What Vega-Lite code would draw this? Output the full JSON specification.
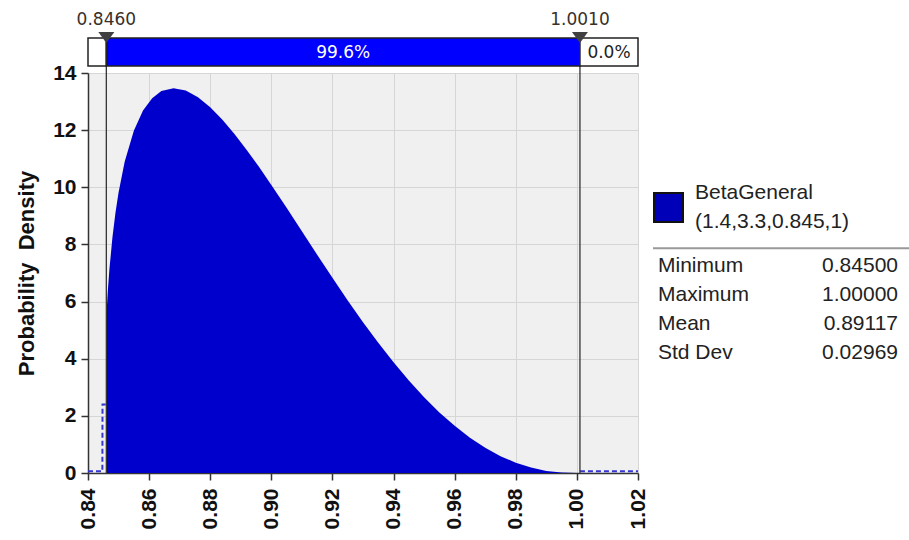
{
  "$schema": "https://vega.github.io/schema/vega-lite/v6.json",
  "background": "white",
  "padding": {"left": 15, "top": 10, "right": 0, "bottom": 0},
  "bounds": "flush",
  "spacing": 12,
  "config": {"view": {"stroke": null}, "font": "Liberation Sans"},
  "datasets": {
    "density": [
      {"x": 0.846, "density": 5.48}, {"x": 0.8465, "density": 6.40}, {"x": 0.847, "density": 7.12},
      {"x": 0.848, "density": 8.25}, {"x": 0.849, "density": 9.12}, {"x": 0.850, "density": 9.82},
      {"x": 0.852, "density": 10.89}, {"x": 0.855, "density": 11.98}, {"x": 0.858, "density": 12.69},
      {"x": 0.861, "density": 13.12}, {"x": 0.864, "density": 13.37}, {"x": 0.868, "density": 13.47},
      {"x": 0.872, "density": 13.39}, {"x": 0.876, "density": 13.15}, {"x": 0.880, "density": 12.80},
      {"x": 0.884, "density": 12.36}, {"x": 0.888, "density": 11.86}, {"x": 0.892, "density": 11.30},
      {"x": 0.896, "density": 10.71}, {"x": 0.900, "density": 10.08}, {"x": 0.905, "density": 9.28},
      {"x": 0.910, "density": 8.46}, {"x": 0.915, "density": 7.64}, {"x": 0.920, "density": 6.83},
      {"x": 0.925, "density": 6.04}, {"x": 0.930, "density": 5.28}, {"x": 0.935, "density": 4.56},
      {"x": 0.940, "density": 3.88}, {"x": 0.945, "density": 3.24}, {"x": 0.950, "density": 2.65},
      {"x": 0.955, "density": 2.12}, {"x": 0.960, "density": 1.65}, {"x": 0.965, "density": 1.23},
      {"x": 0.970, "density": 0.88}, {"x": 0.975, "density": 0.59}, {"x": 0.980, "density": 0.36},
      {"x": 0.985, "density": 0.19}, {"x": 0.990, "density": 0.07}, {"x": 0.995, "density": 0.015},
      {"x": 1.000, "density": 0.0}
    ],
    "tails": [
      {"part": "left", "x": 0.8400, "density": 0.06},
      {"part": "left", "x": 0.8447, "density": 0.06},
      {"part": "left", "x": 0.84475, "density": 2.4},
      {"part": "left", "x": 0.8458, "density": 2.4},
      {"part": "right", "x": 1.001, "density": 0.06},
      {"part": "right", "x": 1.020, "density": 0.06}
    ],
    "delims": [
      {"x": 0.846, "label": "0.8460"},
      {"x": 1.001, "label": "1.0010"}
    ],
    "segments": [
      {"seg": "left", "lo": 0.840, "hi": 0.846, "pct": "0.4%"},
      {"seg": "mid", "lo": 0.846, "hi": 1.001, "pct": "99.6%"},
      {"seg": "right", "lo": 1.001, "hi": 1.020, "pct": "0.0%"}
    ],
    "dist": [
      {"name": "BetaGeneral", "params": "(1.4,3.3,0.845,1)"}
    ],
    "stats": [
      {"stat": "Minimum", "val": "0.84500"},
      {"stat": "Maximum", "val": "1.00000"},
      {"stat": "Mean", "val": "0.89117"},
      {"stat": "Std Dev", "val": "0.02969"}
    ]
  },
  "hconcat": [
    {
      "width": 550,
      "height": 400,
      "view": {"fill": "#f0f0f0", "stroke": null},
      "layer": [
        {
          "data": {"name": "density"},
          "mark": {"type": "area", "color": "#0000CC", "interpolate": "linear"},
          "encoding": {
            "x": {
              "field": "x", "type": "quantitative",
              "scale": {"domain": [0.84, 1.02], "nice": false, "zero": false},
              "axis": {
                "values": [0.84, 0.86, 0.88, 0.90, 0.92, 0.94, 0.96, 0.98, 1.00, 1.02],
                "format": ".2f", "labelAngle": -90, "labelFont": "Liberation Sans",
                "labelFontSize": 21, "labelFontWeight": "bold", "labelColor": "#111",
                "tickColor": "#333", "tickSize": 7, "tickWidth": 1.5,
                "domainColor": "#333", "domainWidth": 1.5,
                "gridColor": "#d6d6d6", "gridWidth": 1,
                "labelPadding": 8, "title": null, "labelFlush": false, "labelOverlap": false
              }
            },
            "y": {
              "field": "density", "type": "quantitative",
              "scale": {"domain": [0, 14], "nice": false},
              "axis": {
                "values": [0, 2, 4, 6, 8, 10, 12, 14],
                "labelFont": "Liberation Sans", "labelFontSize": 21, "labelFontWeight": "bold",
                "labelColor": "#111", "tickColor": "#333", "tickSize": 7, "tickWidth": 1.5,
                "domainColor": "#333", "domainWidth": 1.5,
                "gridColor": "#d6d6d6", "gridWidth": 1, "labelPadding": 5,
                "title": "Probability\u00a0 Density", "titleFont": "Liberation Sans",
                "titleFontSize": 22, "titleFontWeight": "bold", "titleColor": "#111",
                "titlePadding": 14
              }
            }
          }
        },
        {
          "data": {"name": "tails"},
          "mark": {"type": "line", "color": "#3535D5", "strokeWidth": 2, "strokeDash": [5, 3]},
          "encoding": {
            "x": {"field": "x", "type": "quantitative"},
            "y": {"field": "density", "type": "quantitative"},
            "detail": {"field": "part"}
          }
        },
        {
          "data": {"name": "delims"},
          "mark": {"type": "rule", "color": "#333", "strokeWidth": 1.3},
          "encoding": {
            "x": {"field": "x", "type": "quantitative"},
            "y": {"datum": 0},
            "y2": {"datum": 15.225}
          }
        },
        {
          "data": {"name": "segments"},
          "mark": {"type": "rect", "stroke": "#222", "strokeWidth": 1.5},
          "encoding": {
            "x": {"field": "lo", "type": "quantitative"},
            "x2": {"field": "hi"},
            "y": {"datum": 14.245},
            "y2": {"datum": 15.225},
            "fill": {
              "field": "seg", "type": "nominal",
              "scale": {"domain": ["left", "mid", "right"], "range": ["#ffffff", "#0000FF", "#ffffff"]},
              "legend": null
            }
          }
        },
        {
          "data": {"name": "segments"},
          "transform": [{"filter": "datum.seg === 'mid'"}, {"calculate": "(datum.lo + datum.hi) / 2", "as": "mid"}],
          "mark": {"type": "text", "font": "DejaVu Sans", "fontSize": 17, "color": "#ffffff", "baseline": "middle", "align": "center"},
          "encoding": {
            "x": {"field": "mid", "type": "quantitative"},
            "y": {"datum": 14.7},
            "text": {"field": "pct"}
          }
        },
        {
          "data": {"name": "segments"},
          "transform": [{"filter": "datum.seg === 'right'"}, {"calculate": "(datum.lo + datum.hi) / 2", "as": "mid"}],
          "mark": {"type": "text", "font": "DejaVu Sans", "fontSize": 17, "color": "#222", "baseline": "middle", "align": "center"},
          "encoding": {
            "x": {"field": "mid", "type": "quantitative"},
            "y": {"datum": 14.7},
            "text": {"field": "pct"}
          }
        },
        {
          "data": {"name": "delims"},
          "mark": {"type": "point", "shape": "M-1,-0.69L1,-0.69L0,0.69Z", "size": 256, "filled": true, "color": "#404040", "opacity": 1},
          "encoding": {
            "x": {"field": "x", "type": "quantitative"},
            "y": {"datum": 15.24}
          }
        },
        {
          "data": {"name": "delims"},
          "mark": {"type": "text", "font": "DejaVu Sans", "fontSize": 17, "color": "#3a3028", "baseline": "middle", "align": "center"},
          "encoding": {
            "x": {"field": "x", "type": "quantitative"},
            "y": {"datum": 15.87},
            "text": {"field": "label"}
          }
        }
      ]
    },
    {
      "width": 255,
      "height": 400,
      "view": {"stroke": null, "fill": null},
      "layer": [
        {
          "data": {"name": "dist"},
          "mark": {"type": "point", "shape": "square", "size": 841, "filled": true, "fill": "#0000B8", "stroke": "#111", "strokeWidth": 2, "opacity": 1},
          "encoding": {
            "x": {"datum": 18.5, "type": "quantitative", "scale": {"domain": [0, 255], "nice": false}, "axis": null},
            "y": {"datum": "a", "type": "ordinal", "scale": {"type": "point", "domain": ["name", "a", "params", "b", "sep", "Minimum", "c", "Maximum", "d", "Mean", "e", "Std Dev"], "range": [120, 280], "padding": 0}, "axis": null}
          }
        },
        {
          "data": {"name": "dist"},
          "mark": {"type": "text", "align": "left", "baseline": "middle", "fontSize": 21, "color": "#222"},
          "encoding": {
            "x": {"datum": 45, "type": "quantitative"},
            "y": {"datum": "name", "type": "ordinal"},
            "text": {"field": "name"}
          }
        },
        {
          "data": {"name": "dist"},
          "mark": {"type": "text", "align": "left", "baseline": "middle", "fontSize": 21, "color": "#222"},
          "encoding": {
            "x": {"datum": 45, "type": "quantitative"},
            "y": {"datum": "params", "type": "ordinal"},
            "text": {"field": "params"}
          }
        },
        {
          "data": {"name": "dist"},
          "mark": {"type": "rule", "color": "#999", "strokeWidth": 2, "yOffset": -3},
          "encoding": {
            "x": {"datum": 3, "type": "quantitative"},
            "x2": {"datum": 259},
            "y": {"datum": "sep", "type": "ordinal"}
          }
        },
        {
          "data": {"name": "stats"},
          "mark": {"type": "text", "align": "left", "baseline": "middle", "fontSize": 21, "color": "#222"},
          "encoding": {
            "x": {"datum": 8, "type": "quantitative"},
            "y": {"field": "stat", "type": "ordinal"},
            "text": {"field": "stat"}
          }
        },
        {
          "data": {"name": "stats"},
          "mark": {"type": "text", "align": "right", "baseline": "middle", "fontSize": 21, "color": "#222"},
          "encoding": {
            "x": {"datum": 248, "type": "quantitative"},
            "y": {"field": "stat", "type": "ordinal"},
            "text": {"field": "val"}
          }
        }
      ]
    }
  ]
}
